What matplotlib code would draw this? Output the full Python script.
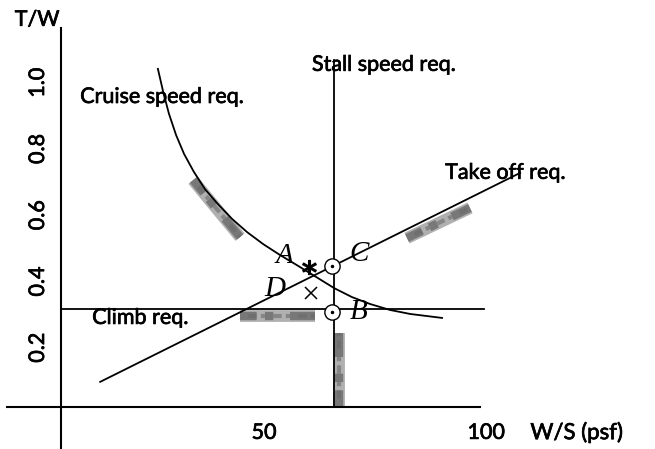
import matplotlib
matplotlib.use('Agg')
import matplotlib.pyplot as plt
import matplotlib.patheffects as pe
import numpy as np

# constraint diagram values (W/S in psf, T/W)
cruise_ws = [26.1, 27.3, 28.6, 30.2, 32.0, 34.2, 36.7, 39.6, 42.8, 46.2,
             49.8, 53.6, 57.7, 61.7, 65.8, 69.8, 73.9, 78.4, 82.9, 90.1]
cruise_tw = [1.042, 0.972, 0.906, 0.842, 0.785, 0.731, 0.679, 0.634, 0.589, 0.549,
             0.513, 0.480, 0.447, 0.414, 0.380, 0.353, 0.332, 0.314, 0.302, 0.290]

takeoff_ws = [13.1, 107.7]
takeoff_tw = [0.097, 0.728]

climb_ws = [4.3, 99.5]
climb_tw = [0.317, 0.317]

stall_ws = [65.8, 65.8]
stall_tw = [0.021, 1.07]

# shaded strips on the infeasible side of each line
shade_cruise = ([34.0, 44.6], [0.706, 0.534])
shade_takeoff = ([82.2, 96.4], [0.531, 0.622])
shade_climb = ([44.6, 61.5], [0.297, 0.297])
shade_stall = ([67.0, 67.0], [0.021, 0.245])

# candidate design points
pt_names = ['A', 'C', 'D', 'B']
pt_ws = [60.1, 65.3, 60.6, 65.3]
pt_tw = [0.444, 0.447, 0.365, 0.308]
pt_label_ws = [54.7, 71.4, 52.5, 71.2]
pt_label_tw = [0.477, 0.483, 0.377, 0.308]

yticks = [0.2, 0.4, 0.6, 0.8, 1.0]
xticks = [50, 100]

plt.rcParams['font.family'] = ['Lato', 'DejaVu Sans']
FS = 15.5
bold_ink = [pe.withStroke(linewidth=0.5, foreground='black')]

fig = plt.figure(figsize=(6.55, 4.49), dpi=100)
ax = fig.add_axes([0, 0, 1, 1])
ax.set_xlim(-9.46, 138.06)
ax.set_ylim(-0.1057, 1.2498)
ax.axis('off')

# hand drawn axes
ax.plot([-7.9, 98.6], [0.021, 0.021], color='black', lw=1.5)
ax.plot([4.3, 4.3], [-0.106, 1.165], color='black', lw=1.5)

# shaded strips
for sx, sy in [shade_cruise, shade_takeoff, shade_climb, shade_stall]:
    ax.plot(sx, sy, color='#b0b0b0', lw=8.5, solid_capstyle='butt', zorder=1)
    ax.plot(sx, sy, color='#4a4a4a', lw=6, ls=(0, (2, 1, 1, 2, 3, 1, 1, 1)),
            dash_capstyle='butt', alpha=0.55, zorder=1)
    ax.plot(sx, sy, color='#6a6a6a', lw=3, ls=(1, (1, 2, 2, 1)),
            dash_capstyle='butt', alpha=0.6, zorder=1)

ax.plot(cruise_ws, cruise_tw, color='black', lw=1.3, zorder=2)
ax.plot(takeoff_ws, takeoff_tw, color='black', lw=1.3, zorder=2)
ax.plot(climb_ws, climb_tw, color='black', lw=1.3, zorder=2)
ax.plot(stall_ws, stall_tw, color='black', lw=1.3, zorder=2)

# point markers
ax.plot(pt_ws[0], pt_tw[0], marker='$*$', color='black', ms=10, zorder=3)
ax.plot(pt_ws[2], pt_tw[2], marker='x', color='black', ms=8, mew=1.1, zorder=3)
for i in [1, 3]:
    ax.plot(pt_ws[i], pt_tw[i], marker='o', mfc='white', mec='black', ms=11, mew=1.0, zorder=3)
    ax.plot(pt_ws[i], pt_tw[i], marker='.', color='black', ms=3, zorder=4)

for name, lx, ly in zip(pt_names, pt_label_ws, pt_label_tw):
    ax.text(lx, ly, name, family='Liberation Serif', style='italic', fontsize=21,
            ha='center', va='center')

# curve labels
ax.text(8.6, 0.957, 'Cruise speed req.', fontsize=FS, va='center', path_effects=bold_ink)
ax.text(60.8, 1.054, 'Stall speed req.', fontsize=FS, va='center', path_effects=bold_ink)
ax.text(90.8, 0.728, 'Take off req.', fontsize=FS, va='center', path_effects=bold_ink)
ax.text(11.3, 0.29, 'Climb req.', fontsize=FS, va='center', path_effects=bold_ink)

# tick labels and axis titles
for t in yticks:
    ax.text(-0.9, t, f'{t:.1f}', rotation=90, fontsize=FS, ha='center', va='center',
            path_effects=bold_ink)
for t in xticks:
    ax.text(t, -0.057, str(t), fontsize=FS, ha='center', va='center', path_effects=bold_ink)
ax.text(110, -0.057, 'W/S (psf)', fontsize=16, va='center', path_effects=bold_ink)
ax.text(-1.1, 1.19, 'T/W', fontsize=FS, ha='center', va='center', path_effects=bold_ink)

fig.savefig('out.png', dpi=100)
